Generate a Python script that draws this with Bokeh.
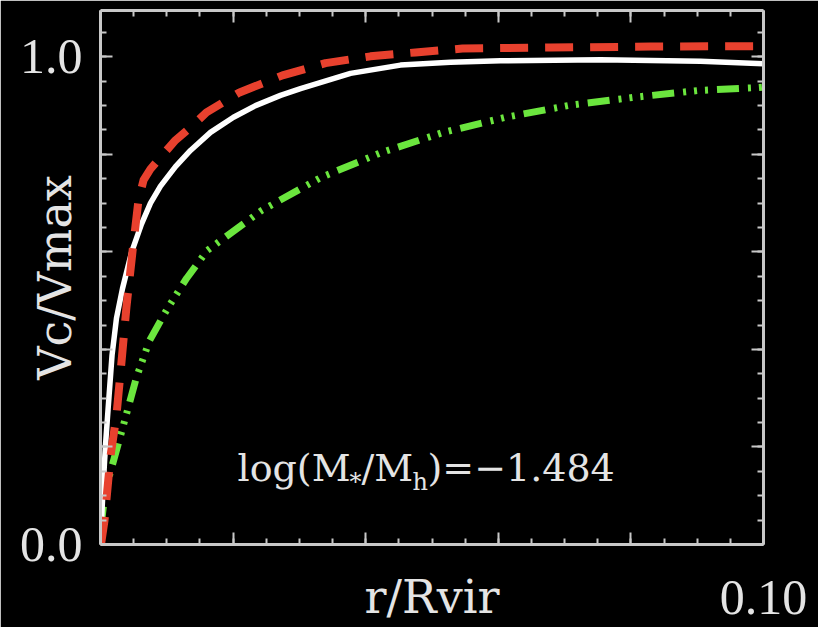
from bokeh.plotting import figure
from bokeh.models import Range1d, LinearAxis, FixedTicker, CustomJSTickFormatter, Label
from bokeh.embed import file_html
from bokeh.resources import INLINE

# ---------------- data ----------------
# solid white curve
r_solid = [0.0, 0.00023, 0.00045, 0.00075, 0.00113, 0.00174, 0.00241, 0.00332, 0.00468,
           0.00618, 0.00754, 0.00905, 0.01131, 0.01357, 0.01659, 0.02006, 0.02338, 0.02715,
           0.03017, 0.03771, 0.04525, 0.05279, 0.06033, 0.07541, 0.0905, 0.1]
v_solid = [0.0, 0.070, 0.131, 0.203, 0.275, 0.388, 0.464, 0.525, 0.599,
           0.657, 0.700, 0.735, 0.775, 0.808, 0.845, 0.876, 0.900, 0.921,
           0.935, 0.966, 0.983, 0.989, 0.992, 0.994, 0.991, 0.986]

# red dashed curve
r_dash = [0.000075, 0.0006, 0.00151, 0.00241, 0.00317, 0.00392, 0.00483, 0.00573, 0.00649,
          0.00754, 0.00905, 0.01131, 0.01388, 0.01599, 0.02097, 0.02745, 0.03394,
          0.04072, 0.04751, 0.0546, 0.06787, 0.08296, 0.1]
v_dash = [0.0, 0.049, 0.181, 0.265, 0.375, 0.488, 0.601, 0.706, 0.747,
          0.770, 0.794, 0.829, 0.859, 0.886, 0.927, 0.962, 0.987,
          1.001, 1.009, 1.017, 1.019, 1.021, 1.022]

# green dash-dot-dot-dot curve
r_dashdot = [0.00005, 0.00045, 0.00136, 0.00332, 0.00543, 0.00739, 0.0101, 0.0130, 0.0161,
             0.0243, 0.0333, 0.0424, 0.0517, 0.0611, 0.0709, 0.0805, 0.0902, 0.0991, 0.1]
v_dashdot = [0.033, 0.080, 0.142, 0.238, 0.343, 0.418, 0.484, 0.546, 0.603,
             0.685, 0.753, 0.804, 0.845, 0.876, 0.901, 0.917, 0.931, 0.937, 0.938]

# axes
x_major_ticks = [0.0, 0.02, 0.04, 0.06, 0.08, 0.10]
x_minor_ticks = [i * 0.005 for i in range(0, 21)]
x_label_ticks = [0.10]
x_tick_labels = ["0.10"]
y_major_ticks = [0.0, 0.2, 0.4, 0.6, 0.8, 1.0]
y_minor_ticks = [i * 0.05 for i in range(0, 22)]
y_label_ticks = [0.0, 1.0]
y_tick_labels = ["0.0", "1.0"]
x_title = "r/Rvir"
y_title = "Vc/Vmax"
annotation_parts = ["log(M", "*", "/M", "h", ")=\u22121.484"]

# ---------------- styles ----------------
BG = "#000000"
AX = "#c8c8c8"
TXT = "#e4e4e4"
SERIF = "DejaVu Serif"
NUMF = "Liberation Serif"

p = figure(width=818, height=627, output_backend="svg", toolbar_location=None,
           title=None, x_axis_type=None, y_axis_type=None,
           x_range=Range1d(0.0, 0.1), y_range=Range1d(0.0, 1.095),
           min_border_left=100, min_border_right=55, min_border_top=10, min_border_bottom=83)
p.background_fill_color = BG
p.border_fill_color = BG
p.outline_line_color = None

label_code = """
for (let i = 0; i < vals.length; i++) {
  if (Math.abs(tick - vals[i]) < 1e-9) { return txt[i]; }
}
return "";
"""

def make_axis(ticks, minor, vals, txt, show):
    ax = LinearAxis(ticker=FixedTicker(ticks=ticks, minor_ticks=minor))
    ax.formatter = CustomJSTickFormatter(args=dict(vals=vals if show else [], txt=txt if show else []),
                                         code=label_code)
    ax.axis_line_color = AX
    ax.axis_line_width = 3
    ax.major_tick_line_color = AX
    ax.major_tick_line_width = 2
    ax.minor_tick_line_color = AX
    ax.minor_tick_line_width = 2
    ax.major_tick_in = 12
    ax.major_tick_out = 0
    ax.minor_tick_in = 6
    ax.minor_tick_out = 0
    if show:
        ax.major_label_text_font = NUMF
        ax.major_label_text_font_size = "50px"
        ax.major_label_text_color = TXT
        ax.axis_label_text_font = SERIF
        ax.axis_label_text_font_style = "normal"
        ax.axis_label_text_color = TXT
    else:
        ax.major_label_text_font_size = "0px"
        ax.major_label_standoff = 0
    return ax

bottom = make_axis(x_major_ticks, x_minor_ticks, x_label_ticks, x_tick_labels, True)
bottom.major_label_standoff = 36
bottom.axis_label = x_title
bottom.axis_label_text_font_size = "46px"
bottom.axis_label_standoff = -47

left = make_axis(y_major_ticks, y_minor_ticks, y_label_ticks, y_tick_labels, True)
left.major_label_standoff = 18
left.axis_label = y_title
left.axis_label_text_font_size = "46px"
left.axis_label_standoff = -65

top = make_axis(x_major_ticks, x_minor_ticks, [], [], False)
right = make_axis(y_major_ticks, y_minor_ticks, [], [], False)
p.add_layout(bottom, "below")
p.add_layout(left, "left")
p.add_layout(top, "above")
p.add_layout(right, "right")

# curves
p.line(r_dashdot, v_dashdot, line_color="#6be63e", line_width=7,
       line_dash="22 9 3 8 3 8 3 9", line_cap="butt", line_join="round")
p.line(r_solid, v_solid, line_color="#ffffff", line_width=5.5, line_join="round")
p.line(r_dash, v_dash, line_color="#e8412e", line_width=8,
       line_dash="28 17", line_cap="butt", line_join="round")

# annotation log(M*/Mh) = -1.484
ann_x, ann_y = 0.02066, 0.156
offsets = [0, 112, 124, 175, 190]
sizes = [38, 24, 38, 24, 38]
lowers = [0, -14, 0, -14, 0]
for txt, off, size, low in zip(annotation_parts, offsets, sizes, lowers):
    p.add_layout(Label(x=ann_x, y=ann_y, x_offset=off, y_offset=low, text=txt,
                       text_font=SERIF, text_font_size=f"{size}px", text_color=TXT,
                       text_align="left", text_baseline="alphabetic"))

open("out.html", "w").write(file_html(p, INLINE))
